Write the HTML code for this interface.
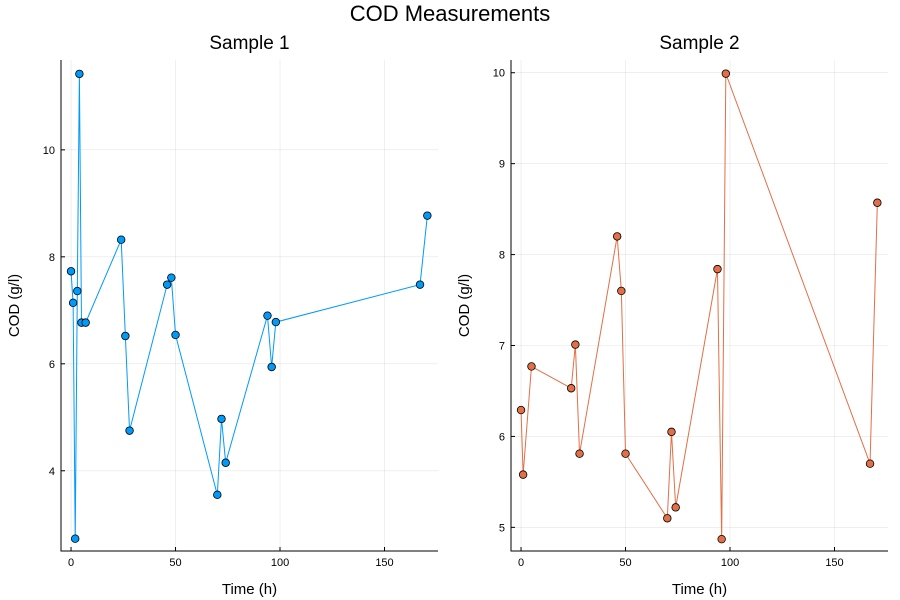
<!DOCTYPE html>
<html><head><meta charset="utf-8"><style>
body{margin:0;background:#fff;}
svg{display:block;font-family:"Liberation Sans","DejaVu Sans",sans-serif;}
</style></head><body>
<svg id="chart" width="900" height="600">
<text x="450" y="21" text-anchor="middle" font-size="22">COD Measurements</text>
</svg>
<script>
const time1 = [0,1,2,3,4,5,7,24,26,28,46,48,50,70,72,74,94,96,98,167,170.5];
const cod1 = [7.73,7.14,2.73,7.36,11.42,6.77,6.77,8.32,6.52,4.75,7.48,7.61,6.54,3.55,4.97,4.15,6.90,5.94,6.78,7.48,8.77];
const time2 = [0,1,5,24,26,28,46,48,50,70,72,74,94,96,98,167,170.5];
const cod2 = [6.29,5.58,6.77,6.53,7.01,5.81,8.20,7.60,5.81,5.10,6.05,5.22,7.84,4.87,9.99,5.70,8.57];
const xTicks = [0,50,100,150];
const yTicks1 = [4,6,8,10];
const yTicks2 = [5,6,7,8,9,10];
const svg = document.getElementById('chart');
const NS = 'http://www.w3.org/2000/svg';
function mk(tag, attrs, parent){const e=document.createElementNS(NS,tag);for(const k in attrs)e.setAttribute(k,attrs[k]);(parent||svg).appendChild(e);return e;}
function panel(id, left, right, top, bottom, xmin, xmax, ymin, ymax, xs, ys, yTicks, color, title){
  const g = mk('g',{});
  
  
  const sx = v => left + (v - xmin) / (xmax - xmin) * (right - left);
  const sy = v => bottom - (v - ymin) / (ymax - ymin) * (bottom - top);
  xTicks.forEach(t=>{
    const l = mk('line',{x1:sx(t),x2:sx(t),y1:top,y2:bottom,stroke:'#000','stroke-opacity':0.1,'stroke-width':0.6},g);
    
    
    mk('line',{x1:sx(t),x2:sx(t),y1:bottom,y2:bottom-4,stroke:'#000','stroke-width':1},g);
    const tx = mk('text',{x:sx(t),y:bottom+15,'text-anchor':'middle','font-size':11},g);
    tx.textContent = t;
    
    
  });
  yTicks.forEach(t=>{
    const l = mk('line',{x1:left,x2:right,y1:sy(t),y2:sy(t),stroke:'#000','stroke-opacity':0.1,'stroke-width':0.6},g);
    
    
    mk('line',{x1:left,x2:left+4,y1:sy(t),y2:sy(t),stroke:'#000','stroke-width':1},g);
    const tx = mk('text',{x:left-6,y:sy(t)+4,'text-anchor':'end','font-size':11},g);
    tx.textContent = t;
    
    
  });
  const ax = mk('path',{d:`M${left},${top}V${bottom}H${right}`,fill:'none',stroke:'#000','stroke-width':1},g);
  
  
  const pts = xs.map((x,i)=>sx(x)+','+sy(ys[i])).join(' ');
  const line = mk('polyline',{points:pts,fill:'none',stroke:color,'stroke-width':1},g);
  
  
  xs.forEach((x,i)=>{
    const c = mk('circle',{cx:sx(x),cy:sy(ys[i]),r:3.8,fill:color,stroke:'#000','stroke-width':0.8},g);
    
    
  });
  const ti = mk('text',{x:(left+right)/2,y:49,'text-anchor':'middle','font-size':19},g);
  ti.textContent = title;
  
  
  const xl = mk('text',{x:(left+right)/2,y:594,'text-anchor':'middle','font-size':15},g);
  xl.textContent = 'Time (h)';
  
  
  const cy = (top+bottom)/2, cx = left-42;
  const yl = mk('text',{x:cx,y:cy,'text-anchor':'middle','font-size':15,transform:`rotate(-90 ${cx} ${cy})`},g);
  yl.textContent = 'COD (g/l)';
  
  
}
panel('sample-1-panel', 61, 438, 60, 551, -4.8, 175.6, 2.50, 11.68, time1, cod1, yTicks1, '#009af9', 'Sample 1');
panel('sample-2-panel', 511, 888, 60, 551, -4.8, 175.6, 4.74, 10.14, time2, cod2, yTicks2, '#e26f46', 'Sample 2');
</script>
</body></html>
